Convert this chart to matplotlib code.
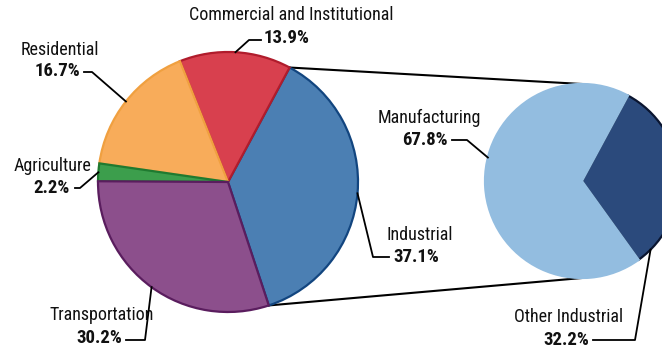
import numpy as np
import matplotlib.pyplot as plt

# data
sectors = ["Industrial", "Commercial and Institutional", "Residential",
           "Agriculture", "Transportation"]
sector_share = [37.1, 13.9, 16.7, 2.2, 30.2]
industry = ["Other Industrial", "Manufacturing"]
industry_share = [32.2, 67.8]

sector_colors = ["#4b7fb3", "#d8404e", "#f8ac5a", "#3c9e4c", "#8c4f8c"]
sector_edges = ["#12457f", "#b01c2c", "#f0a040", "#1f7a30", "#5a1d5e"]
industry_colors = ["#2b4a7c", "#93bde0"]
industry_edges = ["#0a1530", "#93bde0"]

W, H = 662, 351
plt.rcParams['font.family'] = ['Roboto Condensed', 'Roboto', 'DejaVu Sans']

fig = plt.figure(figsize=(W / 100, H / 100), dpi=100)
ax = fig.add_axes([0, 0, 1, 1])

# layout in pixel coords (y measured from the top)
main_c = (228, H - 182)
main_r = 130
sub_c = (582, H - 181)
sub_r = 97

main_start = -5 - 360 * sector_share[0] / sum(sector_share) / 2
sub_start = 3.7 - 360 * industry_share[0] / sum(industry_share) / 2

wedges, _ = ax.pie(sector_share, colors=sector_colors, startangle=main_start,
                   center=main_c, radius=main_r, counterclock=True,
                   wedgeprops=dict(linewidth=1.6))
for w, ec in zip(wedges, sector_edges):
    w.set_edgecolor(ec)
    w.set_zorder(3)

sub_wedges, _ = ax.pie(industry_share, colors=industry_colors, startangle=sub_start,
                       center=sub_c, radius=sub_r, counterclock=True,
                       wedgeprops=dict(linewidth=1.6))
for w, ec in zip(sub_wedges, industry_edges):
    w.set_edgecolor(ec)
    w.set_zorder(3)


def edge_pt(c, r, ang):
    a = np.deg2rad(ang)
    return c[0] + r * np.cos(a), c[1] + r * np.sin(a)


# connector lines from the Industrial wedge to the breakdown pie
ind = wedges[0]
x0, y0 = edge_pt(main_c, main_r, ind.theta2)
ax.plot([x0, sub_c[0]], [y0, sub_c[1] + sub_r], color="black", lw=1.5, zorder=2)
x0, y0 = edge_pt(main_c, main_r, ind.theta1)
ax.plot([x0, sub_c[0]], [y0, sub_c[1] - sub_r], color="black", lw=1.5, zorder=2)

# label layout: name pos, pct pos, leader start, elbow (pixel coords from top)
main_layout = {
    "Industrial": ((420, 235), (416, 257), (389, 257), (373, 257)),
    "Commercial and Institutional": ((291, 15), (287, 38), (261, 40), (249, 40)),
    "Residential": ((60, 50), (57, 71), (84, 72), (92, 72)),
    "Agriculture": ((53, 166), (52, 188), (75, 188), (80, 188)),
    "Transportation": ((102, 315), (99, 338), (126, 340), (145, 340)),
}
sub_layout = {
    "Manufacturing": ((429, 118), (425, 140), (452, 140), (467, 140), 166),
    "Other Industrial": ((569, 317), (566, 340), (593, 340), (635, 340), -45),
}

name_kw = dict(fontsize=13, ha="center", va="center", color="#111111")
pct_kw = dict(fontsize=13.5, ha="center", va="center", color="#111111",
              fontweight="bold")

for name, share, w in zip(sectors, sector_share, wedges):
    npos, ppos, start, elbow = main_layout[name]
    ax.text(npos[0], H - npos[1], name, **name_kw)
    ax.text(ppos[0], H - ppos[1], f"{share}%", **pct_kw)
    ex, ey = edge_pt(main_c, main_r, (w.theta1 + w.theta2) / 2)
    ax.plot([start[0], elbow[0], ex], [H - start[1], H - elbow[1], ey],
            color="black", lw=1.3, zorder=4)

for name, share in zip(industry, industry_share):
    npos, ppos, start, elbow, ang = sub_layout[name]
    ax.text(npos[0], H - npos[1], name, **name_kw)
    ax.text(ppos[0], H - ppos[1], f"{share}%", **pct_kw)
    ex, ey = edge_pt(sub_c, sub_r, ang)
    ax.plot([start[0], elbow[0], ex], [H - start[1], H - elbow[1], ey],
            color="black", lw=1.3, zorder=4)

ax.set_xlim(0, W)
ax.set_ylim(0, H)
ax.set_aspect("equal")
ax.axis("off")

fig.savefig("out.png", dpi=100)
